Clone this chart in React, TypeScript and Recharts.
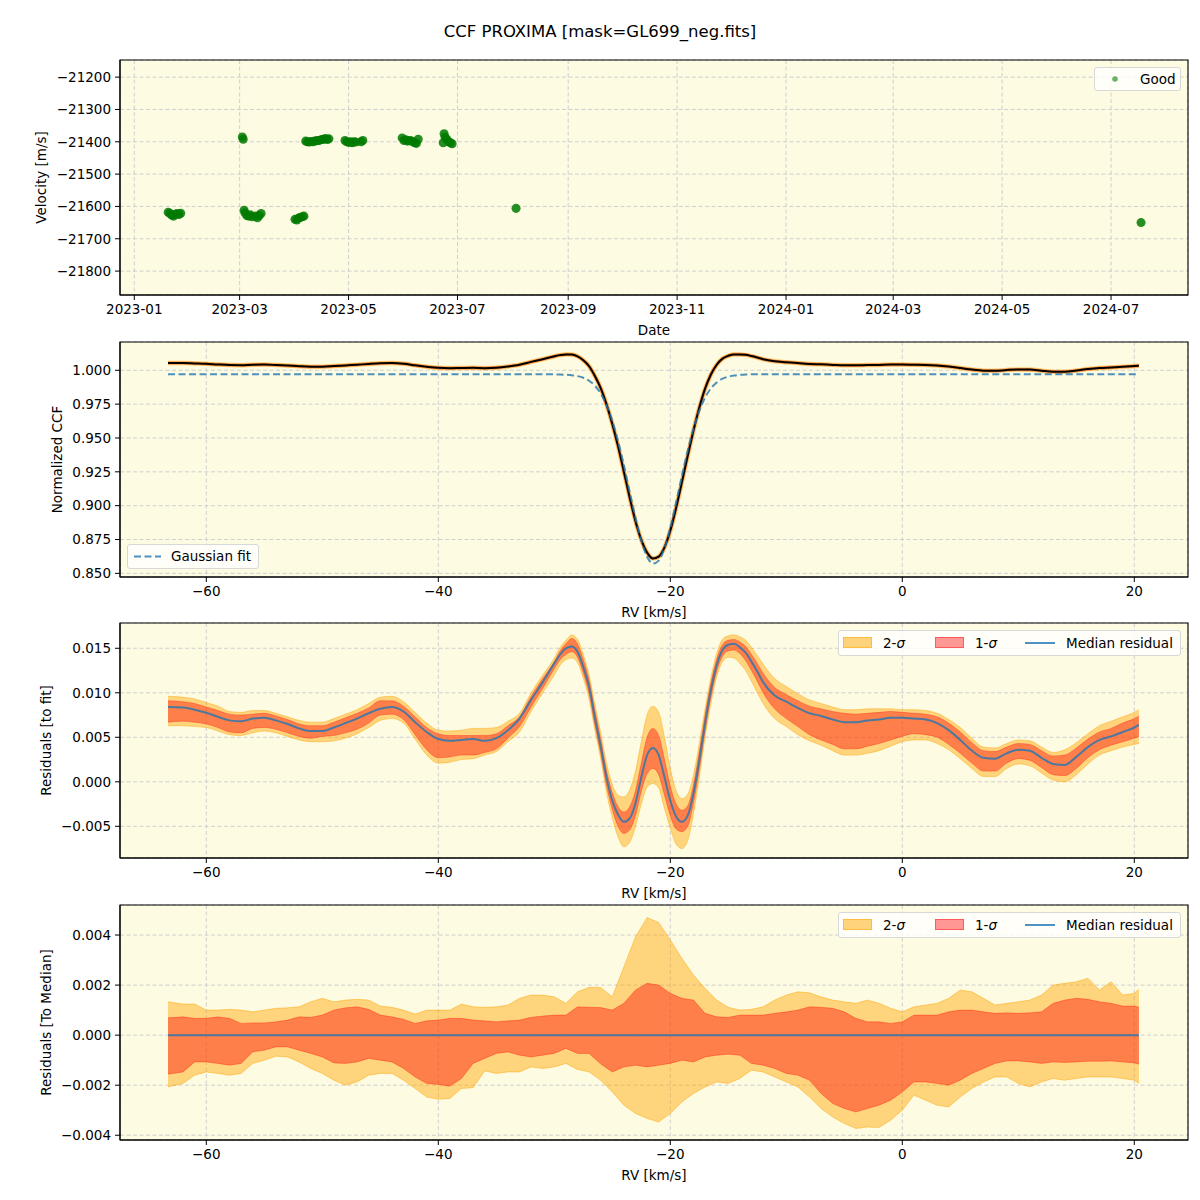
import React from "react";
import {
  ScatterChart,
  Scatter,
  ComposedChart,
  Line,
  Area,
  XAxis,
  YAxis,
  ZAxis,
  CartesianGrid,
  ReferenceArea,
} from "recharts";

const FONT = "'DejaVu Sans', Verdana, sans-serif";

// ---- panel 1: RV per exposure, x = days since 2023-01-01 ----
const OBS_DAY = [
  19, 20, 21, 22, 23, 24, 25, 26,
  60.5, 61,
  61.5, 62, 63, 64, 65, 66, 68, 69, 70, 71,
  90, 91, 92, 93, 94, 95,
  96, 97, 98, 99, 100, 101, 102, 103, 104, 105, 106, 107, 108, 109,
  118, 119, 120, 121, 122, 123, 124, 127, 128,
  150, 151, 152, 153, 154, 155, 156, 157, 158, 159,
  173, 173.5, 174, 175, 176, 177, 178,
  213.8,
  563.8,
];
const OBS_VEL = [
  -21618, -21622, -21627, -21630, -21624, -21622, -21625, -21621,
  -21385, -21392,
  -21612, -21620, -21628, -21630, -21626, -21632, -21630, -21635, -21628, -21622,
  -21640, -21642, -21636, -21634, -21632, -21630,
  -21398, -21400, -21401, -21399, -21400, -21398, -21397, -21396, -21395, -21393, -21392, -21390, -21393, -21391,
  -21396, -21400, -21402, -21400, -21403, -21400, -21401, -21400, -21396,
  -21388, -21396, -21394, -21398, -21396, -21397, -21400, -21403, -21405, -21392,
  -21403, -21375, -21385, -21392, -21400, -21403, -21406,
  -21606,
  -21650,
];
const DATE_TICKS = [0, 59, 120, 181, 243, 304, 365, 425, 486, 547];
const DATE_LABELS = [
  "2023-01", "2023-03", "2023-05", "2023-07", "2023-09",
  "2023-11", "2024-01", "2024-03", "2024-05", "2024-07",
];
const VEL_TICKS = [-21800, -21700, -21600, -21500, -21400, -21300, -21200];

// ---- panels 2 & 3: CCF and residuals to the gaussian fit ----
const RV = [
  -63.3, -62, -61, -60, -59, -58, -57, -56, -55, -54, -53, -52, -51, -50, -49, -48, -47,
  -46, -45, -44, -43, -42, -41, -40, -39, -38, -37, -36, -35, -34, -33, -32, -31,
  -30, -29.5, -29, -28.5, -28, -27.5, -27, -26.5, -26, -25.5, -25, -24.5, -24, -23.5,
  -23, -22.5, -22, -21.5, -21, -20.5, -20, -19.5, -19, -18.5, -18, -17.5, -17, -16.5,
  -16, -15.5, -15, -14.5, -14, -13.5, -13, -12.5, -12,
  -11, -10, -9, -8, -7, -6, -5, -4, -3, -2, -1, 0, 1, 2, 3, 4, 5, 6, 7, 8, 9, 10,
  11, 12, 13, 14, 15, 16, 17, 18, 19, 20, 20.4,
];
const CCF_MED = [
  1.0054, 1.0054, 1.0051, 1.0048, 1.0043, 1.0039, 1.0038, 1.0041, 1.0042, 1.0039, 1.0035,
  1.003, 1.0027, 1.0027, 1.0031, 1.0036, 1.0041, 1.0047, 1.0052, 1.0054, 1.0049, 1.0037,
  1.0026, 1.0018, 1.0016, 1.0017, 1.0018, 1.0016, 1.0019, 1.0028, 1.0041, 1.0062, 1.0082,
  1.0103, 1.0112, 1.0117, 1.0116, 1.0103, 1.0074, 1.003, 0.9958, 0.9868, 0.9748, 0.9604,
  0.9438, 0.9251, 0.906, 0.8885, 0.8747, 0.8653, 0.861, 0.8624, 0.8692, 0.8816, 0.8984,
  0.9174, 0.9368, 0.9556, 0.9724, 0.9864, 0.9969, 1.0041, 1.0086, 1.0107, 1.0117, 1.0117,
  1.0114, 1.0105, 1.0094, 1.0082,
  1.0067, 1.006, 1.0053, 1.0047, 1.0044, 1.004, 1.0037, 1.0037, 1.0039, 1.004, 1.0042,
  1.0042, 1.0041, 1.004, 1.0036, 1.0028, 1.0017, 1.0005, 0.9997, 0.9996, 1.0002, 1.0006,
  1.0005, 0.9997, 0.999, 0.9989, 0.9998, 1.0009, 1.0017, 1.0021, 1.0026, 1.0031, 1.0034,
];
const GAUSS_FIT = [
  0.997, 0.997, 0.997, 0.997, 0.997, 0.997, 0.997, 0.997, 0.997, 0.997, 0.997,
  0.997, 0.997, 0.997, 0.997, 0.997, 0.997, 0.997, 0.997, 0.997, 0.997, 0.997,
  0.997, 0.997, 0.997, 0.997, 0.997, 0.997, 0.997, 0.997, 0.997, 0.997, 0.997,
  0.997, 0.9969, 0.9967, 0.9964, 0.9957, 0.9945, 0.9923, 0.9886, 0.9828, 0.9743, 0.9625,
  0.9475, 0.9296, 0.9101, 0.8909, 0.8742, 0.8623, 0.8572, 0.8594, 0.8687, 0.8837, 0.9023,
  0.9219, 0.9406, 0.9569, 0.97, 0.9798, 0.9866, 0.991, 0.9938, 0.9953, 0.9962, 0.9966,
  0.9969, 0.997, 0.997, 0.997,
  0.997, 0.997, 0.997, 0.997, 0.997, 0.997, 0.997, 0.997, 0.997, 0.997, 0.997,
  0.997, 0.997, 0.997, 0.997, 0.997, 0.997, 0.997, 0.997, 0.997, 0.997, 0.997,
  0.997, 0.997, 0.997, 0.997, 0.997, 0.997, 0.997, 0.997, 0.997, 0.997, 0.997,
];
const RES_MED = [
  0.0084, 0.00835, 0.0081, 0.00775, 0.0073, 0.0069, 0.0068, 0.0071, 0.0072, 0.0069, 0.0065,
  0.006, 0.0057, 0.0057, 0.0061, 0.0066, 0.0071, 0.0077, 0.0082, 0.0084, 0.0079, 0.0067,
  0.0056, 0.0048, 0.0046, 0.0047, 0.0048, 0.0046, 0.0049, 0.0058, 0.0071, 0.0092, 0.0112,
  0.0133, 0.0143, 0.015, 0.0152, 0.0146, 0.0129, 0.0107, 0.0072, 0.004, 0.0005, -0.0021,
  -0.0037, -0.0045, -0.0041, -0.0024, 0.0005, 0.003, 0.0038, 0.003, 0.0005, -0.0021, -0.0039,
  -0.0045, -0.0038, -0.0013, 0.0024, 0.0066, 0.0103, 0.0131, 0.0148, 0.0154, 0.0155, 0.0151,
  0.0145, 0.0135, 0.0124, 0.0112,
  0.0097, 0.009, 0.0083, 0.0077, 0.0074, 0.007, 0.0067, 0.0067, 0.0069, 0.007, 0.0072,
  0.0072, 0.0071, 0.007, 0.0066, 0.0058, 0.0047, 0.0035, 0.0027, 0.0026, 0.0032, 0.0036,
  0.0035, 0.0027, 0.002, 0.0019, 0.0028, 0.0039, 0.0047, 0.0051, 0.0056, 0.0061, 0.0064,
];
const RES_LO2 = [
  0.0063, 0.0063, 0.0062, 0.0061, 0.0057, 0.0053, 0.0052, 0.0055, 0.0057, 0.0055, 0.0051,
  0.0047, 0.0045, 0.0045, 0.0046, 0.0049, 0.0054, 0.0061, 0.0069, 0.0071, 0.0066, 0.0048,
  0.003, 0.0021, 0.0022, 0.0025, 0.0026, 0.003, 0.0034, 0.0045, 0.0056, 0.0079, 0.01,
  0.012, 0.0131, 0.0137, 0.0139, 0.0134, 0.0116, 0.0093, 0.0058, 0.0026, -0.0012, -0.004,
  -0.0062, -0.0073, -0.0068, -0.005, -0.0025, -0.0006, -0.0002, -0.0007, -0.003, -0.0052, -0.007,
  -0.0075, -0.0066, -0.0036, 0.0005, 0.005, 0.0088, 0.0118, 0.0135, 0.014, 0.0139, 0.0133,
  0.0125, 0.0113, 0.01, 0.0088,
  0.0071, 0.0062, 0.0053, 0.0046, 0.0041, 0.0035, 0.003, 0.003, 0.0032, 0.0035, 0.004,
  0.0045, 0.0047, 0.0047, 0.0043, 0.0036, 0.0026, 0.0015, 0.0006, 0.0006, 0.0015, 0.002,
  0.0018, 0.001, 0.0002, 0.0, 0.0008, 0.002, 0.003, 0.0035, 0.0039, 0.0042, 0.0043,
];
const RES_LO1 = [
  0.0067, 0.0068, 0.0067, 0.0065, 0.0061, 0.0056, 0.0055, 0.006, 0.0061, 0.0059, 0.0055,
  0.0051, 0.0049, 0.0051, 0.0052, 0.0055, 0.0059, 0.0066, 0.0075, 0.0076, 0.007, 0.0053,
  0.0036, 0.0027, 0.0028, 0.003, 0.003, 0.0033, 0.0037, 0.0049, 0.0062, 0.0084, 0.0105,
  0.0127, 0.0137, 0.0143, 0.0146, 0.014, 0.0122, 0.0099, 0.0064, 0.0032, -0.0004, -0.0031,
  -0.005, -0.0058, -0.0054, -0.0038, -0.0011, 0.0009, 0.0015, 0.0008, -0.0015, -0.0038, -0.0053,
  -0.0056, -0.005, -0.0024, 0.0014, 0.0057, 0.0095, 0.0124, 0.0141, 0.0147, 0.0148, 0.0144,
  0.0136, 0.0125, 0.0113, 0.01,
  0.0082, 0.0071, 0.0062, 0.0053, 0.0047, 0.0042, 0.0037, 0.0037, 0.004, 0.0043, 0.0047,
  0.0051, 0.0054, 0.0053, 0.005, 0.0042, 0.0032, 0.0021, 0.0012, 0.0012, 0.0021, 0.0026,
  0.0024, 0.0016, 0.0008, 0.0007, 0.0015, 0.0027, 0.0036, 0.0041, 0.0045, 0.0049, 0.0051,
];
const RES_HI1 = [
  0.0091, 0.009, 0.0088, 0.0084, 0.008, 0.0076, 0.0075, 0.0076, 0.0077, 0.0074, 0.007,
  0.0065, 0.0063, 0.0063, 0.0067, 0.0072, 0.0077, 0.0083, 0.0091, 0.0091, 0.0085, 0.0073,
  0.0061, 0.0054, 0.0052, 0.0052, 0.0052, 0.0052, 0.0054, 0.0063, 0.0073, 0.0096, 0.0116,
  0.0135, 0.0147, 0.0155, 0.0161, 0.0155, 0.0137, 0.0114, 0.008, 0.0048, 0.0013, -0.0012,
  -0.0028, -0.0034, -0.0028, -0.001, 0.0021, 0.005, 0.006, 0.0052, 0.0025, -0.0005, -0.0025,
  -0.0032, -0.0027, -0.0003, 0.0034, 0.0075, 0.0111, 0.0138, 0.0154, 0.0159, 0.016, 0.0157,
  0.0152, 0.0143, 0.0133, 0.0122,
  0.0106, 0.0098, 0.0091, 0.0085, 0.0082, 0.0079, 0.0077, 0.0076, 0.0077, 0.0078, 0.0079,
  0.0078, 0.0077, 0.0076, 0.0073, 0.0066, 0.0056, 0.0044, 0.0035, 0.0034, 0.0039, 0.0043,
  0.0042, 0.0035, 0.0029, 0.003, 0.0038, 0.0048, 0.0056, 0.006, 0.0066, 0.0071, 0.0074,
];
const RES_HI2 = [
  0.0096, 0.0095, 0.0093, 0.0089, 0.0085, 0.0079, 0.0078, 0.008, 0.008, 0.0077, 0.0073,
  0.0069, 0.0067, 0.0067, 0.0071, 0.0076, 0.0081, 0.0088, 0.0095, 0.0096, 0.009, 0.0078,
  0.0066, 0.0058, 0.0057, 0.0058, 0.006, 0.006, 0.0061, 0.0068, 0.0077, 0.01, 0.012,
  0.0139, 0.0151, 0.0159, 0.0165, 0.016, 0.0143, 0.012, 0.0087, 0.0055, 0.0021, -0.0003,
  -0.0015, -0.0017, -0.0009, 0.0012, 0.0045, 0.0075, 0.0085, 0.0078, 0.005, 0.0015, -0.001,
  -0.0019, -0.0014, 0.0008, 0.0043, 0.0082, 0.0117, 0.0144, 0.016, 0.0164, 0.0165, 0.0163,
  0.0159, 0.0151, 0.0142, 0.0132,
  0.0116, 0.0107, 0.0099, 0.0092, 0.0088, 0.0084, 0.0081, 0.0081, 0.0082, 0.0082, 0.0082,
  0.0081, 0.0081, 0.008, 0.0077, 0.007, 0.0061, 0.0049, 0.0039, 0.0038, 0.0043, 0.0047,
  0.0046, 0.0039, 0.0033, 0.0036, 0.0044, 0.0054, 0.0063, 0.0068, 0.0073, 0.0078, 0.0081,
];

// ---- panel 4: residuals to the median ----
const TM_RV = [
  -63.3, -62, -61, -60, -59, -58, -57, -56, -55, -54,
  -53, -52, -51, -50, -49, -48, -47, -46, -45, -44,
  -43, -42, -41, -40, -39, -38, -37, -36, -35, -34,
  -33, -32, -31, -30, -29, -28, -27, -26, -25, -24,
  -23, -22, -21, -20, -19, -18, -17, -16, -15, -14,
  -13, -12, -11, -10, -9, -8, -7, -6, -5, -4,
  -3, -2, -1, 0, 1, 2, 3, 4, 5, 6,
  7, 8, 9, 10, 11, 12, 13, 14, 15, 16,
  17, 18, 19, 20, 20.4,
];
const TM_HI2 = [
  0.00133, 0.00124, 0.00124, 0.001, 0.001, 0.00103, 0.001, 0.00093, 0.001, 0.00107,
  0.00109, 0.00113, 0.00133, 0.00147, 0.00133, 0.0014, 0.00143, 0.0014, 0.00116, 0.00111,
  0.001, 0.00084, 0.001, 0.001, 0.001, 0.00124, 0.00113, 0.00111, 0.00113, 0.0012,
  0.00147, 0.0016, 0.0016, 0.00153, 0.00127, 0.00173, 0.00191, 0.0019, 0.00153, 0.00273,
  0.00393, 0.0047, 0.0045, 0.0038, 0.00307, 0.0024, 0.00187, 0.0014, 0.00111, 0.001,
  0.00103, 0.00113, 0.0014, 0.0016, 0.00173, 0.00169, 0.00153, 0.0014, 0.00133, 0.00127,
  0.0014, 0.00127, 0.00107, 0.00093, 0.00113, 0.0012, 0.00127, 0.00147, 0.0018, 0.00173,
  0.00147, 0.0012, 0.00127, 0.00133, 0.0014, 0.0016, 0.002, 0.00207, 0.00213, 0.00227,
  0.0018, 0.00213, 0.0016, 0.00167, 0.00183,
];
const TM_HI1 = [
  0.00069, 0.00073, 0.00067, 0.00067, 0.00073, 0.00067, 0.00047, 0.00049, 0.00049, 0.00053,
  0.0006, 0.00073, 0.00071, 0.0008, 0.001, 0.00109, 0.00113, 0.00103, 0.0008, 0.00073,
  0.00063, 0.00047, 0.00057, 0.0006, 0.00067, 0.00067, 0.0006, 0.00057, 0.00053, 0.00057,
  0.0006, 0.00071, 0.00076, 0.0008, 0.0008, 0.00113, 0.00111, 0.0011, 0.001, 0.00127,
  0.0018, 0.00207, 0.002, 0.00167, 0.00147, 0.0014, 0.00087, 0.00073, 0.00071, 0.0008,
  0.0008, 0.0008, 0.00087, 0.00093, 0.001, 0.00113, 0.00111, 0.00107, 0.00093, 0.00067,
  0.00053, 0.00053, 0.00047, 0.00053, 0.0008, 0.0008, 0.0008, 0.00093, 0.001, 0.001,
  0.00093, 0.00087, 0.00089, 0.00087, 0.00089, 0.00093, 0.00127, 0.0014, 0.00147, 0.00143,
  0.00133, 0.00127, 0.00116, 0.00116, 0.00111,
];
const TM_LO1 = [
  -0.00156, -0.00147, -0.00107, -0.00107, -0.00113, -0.0012, -0.00113, -0.00067, -0.0006, -0.00047,
  -0.00047, -0.0006, -0.00073, -0.00087, -0.00111, -0.00113, -0.00107, -0.00093, -0.001, -0.00107,
  -0.00133, -0.00167, -0.00193, -0.00197, -0.00204, -0.00173, -0.00113, -0.00093, -0.00073, -0.00067,
  -0.0008, -0.00087, -0.0008, -0.00073, -0.00053, -0.00073, -0.00073, -0.00115, -0.00147, -0.00127,
  -0.0012, -0.00127, -0.0012, -0.00113, -0.001, -0.00107, -0.00087, -0.0008, -0.00076, -0.0008,
  -0.00113, -0.0012, -0.00133, -0.00153, -0.0016, -0.0018, -0.00233, -0.00273, -0.00293, -0.00307,
  -0.00293, -0.0028, -0.0026, -0.00227, -0.00187, -0.00187, -0.00193, -0.002, -0.0018, -0.00153,
  -0.00133, -0.00113, -0.00103, -0.00103, -0.00107, -0.00113, -0.00107, -0.00109, -0.00107, -0.00104,
  -0.00104, -0.00103, -0.00107, -0.00111, -0.00116,
];
const TM_LO2 = [
  -0.00207, -0.00193, -0.0016, -0.00147, -0.00153, -0.0016, -0.00153, -0.00113, -0.001, -0.00084,
  -0.00087, -0.00107, -0.00133, -0.00153, -0.0018, -0.002, -0.00187, -0.0016, -0.00153, -0.00153,
  -0.0018, -0.00213, -0.00247, -0.00256, -0.00253, -0.00213, -0.0021, -0.00143, -0.00153, -0.00147,
  -0.00147, -0.00127, -0.00133, -0.00127, -0.00113, -0.00137, -0.00147, -0.0018, -0.00227, -0.0028,
  -0.00313, -0.00333, -0.00347, -0.00313, -0.00267, -0.00233, -0.00207, -0.00187, -0.00193, -0.00173,
  -0.0014, -0.00147, -0.00167, -0.00187, -0.00207, -0.00247, -0.00293, -0.00327, -0.00353, -0.00373,
  -0.00367, -0.00369, -0.0034, -0.003, -0.0024, -0.0026, -0.0028, -0.00287, -0.00247, -0.00213,
  -0.00187, -0.00167, -0.00167, -0.00193, -0.00207, -0.00187, -0.00173, -0.0018, -0.00173, -0.00167,
  -0.00167, -0.00167, -0.00173, -0.0018, -0.00193,
];
const TM_MEDIAN = [0, 0]; // flat by construction, at both ends of TM_RV

const RV_TICKS = [-60, -40, -20, 0, 20];
const CCF_TICKS = [0.85, 0.875, 0.9, 0.925, 0.95, 0.975, 1.0];
const RES_TICKS = [-0.005, 0, 0.005, 0.01, 0.015];
const TM_TICKS = [-0.004, -0.002, 0, 0.002, 0.004];

const velData = OBS_DAY.map((d, i) => ({ day: d, vel: OBS_VEL[i] }));
const ccfData = RV.map((rv, i) => ({
  rv,
  ccf: CCF_MED[i],
  fit: GAUSS_FIT[i],
  med: RES_MED[i],
  s1: [RES_LO1[i], RES_HI1[i]],
  s2: [RES_LO2[i], RES_HI2[i]],
}));
const tmData = TM_RV.map((rv, i) => ({
  rv,
  s1: [TM_LO1[i], TM_HI1[i]],
  s2: [TM_LO2[i], TM_HI2[i]],
}));
const tmMedian = [
  { rv: TM_RV[0], med: TM_MEDIAN[0] },
  { rv: TM_RV[TM_RV.length - 1], med: TM_MEDIAN[1] },
];

const BG = "#FDFBE2";
const GRID = "#cfcfcf";
const BLUE = "#1f77b4";
const minus = (s: string) => s.replace("-", "\u2212");

const tickStyle = { fill: "#000", fontSize: 13.5, fontFamily: FONT };
const axisCommon = {
  tick: tickStyle,
  tickLine: { stroke: "#000" },
  axisLine: { stroke: "#000" },
  tickSize: 5,
  tickMargin: 4,
  allowDataOverflow: true,
  interval: 0 as const,
};

const xLabel = (text: string) => (props: any) => {
  const vb = props.viewBox || { x: 120, y: 0, width: 1068 };
  return (
    <text x={vb.x + vb.width / 2} y={vb.y + 35} textAnchor="middle" dominantBaseline="central"
      fontSize={13.5} fontFamily={FONT} fill="#000">{text}</text>
  );
};
const yLabel = (text: string, cx: number) => (props: any) => {
  const vb = props.viewBox || { y: 0, height: 0 };
  const cy = vb.y + vb.height / 2;
  return (
    <text x={cx} y={cy} transform={`rotate(-90 ${cx} ${cy})`} textAnchor="middle"
      dominantBaseline="central" fontSize={13.5} fontFamily={FONT} fill="#000">{text}</text>
  );
};

// axes box (all four spines)
const frame = (xDom: number[], yDom: number[]) => (
  <ReferenceArea x1={xDom[0]} x2={xDom[1]} y1={yDom[0]} y2={yDom[1]} fill="none"
    stroke="#000" strokeWidth={1.1} strokeOpacity={1} ifOverflow="visible" />
);

const legendBox: React.CSSProperties = {
  position: "absolute",
  background: "rgba(255,255,255,0.8)",
  border: "1px solid #d8d8d8",
  borderRadius: 3,
  boxSizing: "border-box",
  fontFamily: FONT,
  fontSize: 13.5,
  color: "#000",
};
const legendText = (left: number, h: number): React.CSSProperties => ({
  position: "absolute",
  left,
  top: 0,
  lineHeight: `${h - 2}px`,
  whiteSpace: "nowrap",
});

function SigmaLegend({ top }: { top: number }) {
  const h = 26;
  return (
    <div style={{ ...legendBox, left: 838, top, width: 343, height: h }}>
      <div style={{ position: "absolute", left: 4, top: 6, width: 29, height: 11, background: "rgba(255,165,0,0.5)", border: "1px solid rgba(255,165,0,0.5)", boxSizing: "border-box" }} />
      <span style={legendText(44, h)}>2-<i>σ</i></span>
      <div style={{ position: "absolute", left: 96, top: 6, width: 29, height: 11, background: "rgba(255,0,0,0.4)", border: "1px solid rgba(255,0,0,0.4)", boxSizing: "border-box" }} />
      <span style={legendText(136, h)}>1-<i>σ</i></span>
      <div style={{ position: "absolute", left: 186, top: 11, width: 30, height: 2, background: BLUE, opacity: 0.8 }} />
      <span style={legendText(227, h)}>Median residual</span>
    </div>
  );
}

export default function App() {
  const W = 1200;
  const velDom = [-21874, -21147];
  const dayDom = [-8, 590.1];
  const rvDom = [-67.44, 24.63];
  const ccfDom = [0.8473, 1.0209];
  const resDom = [-0.00856, 0.01784];
  const tmDom = [-0.00419, 0.0052];

  return (
    <div style={{ position: "absolute", left: 0, top: 0, width: 1200, height: 1200, background: "#fff", fontFamily: FONT }}>
      <div style={{ position: "absolute", left: 0, top: 21, width: 1200, textAlign: "center", fontSize: 16.5, lineHeight: "22px" }}>
        CCF PROXIMA [mask=GL699_neg.fits]
      </div>

      {/* panel 1 */}
      <div style={{ position: "absolute", left: 0, top: 0 }}>
        <ScatterChart width={W} height={340} margin={{ top: 60, right: 12, bottom: 0, left: 0 }}>
          <CartesianGrid fill={BG} fillOpacity={1} stroke={GRID} strokeDasharray="4 2.5" />
          <XAxis {...axisCommon} dataKey="day" type="number" domain={dayDom} ticks={DATE_TICKS}
            height={45} tickFormatter={(v: number) => DATE_LABELS[DATE_TICKS.indexOf(v)] ?? ""}
            label={xLabel("Date")} />
          <YAxis {...axisCommon} dataKey="vel" type="number" domain={velDom} ticks={VEL_TICKS}
            width={120} tickFormatter={(v: number) => minus(String(v))}
            label={yLabel("Velocity [m/s]", 41)} />
          <ZAxis range={[88, 88]} />
          <Scatter data={velData} fill="#007a00" fillOpacity={0.85} isAnimationActive={false} />
          {frame(dayDom, velDom)}
        </ScatterChart>
      </div>
      <div style={{ ...legendBox, left: 1094, top: 67, width: 87, height: 24 }}>
        <svg width={20} height={22} style={{ position: "absolute", left: 10, top: 0 }}>
          <circle cx={10} cy={11} r={2.8} fill="#008000" fillOpacity={0.6} />
        </svg>
        <span style={legendText(45, 24)}>Good</span>
      </div>

      {/* panel 2 */}
      <div style={{ position: "absolute", left: 0, top: 300 }}>
        <ComposedChart width={W} height={320} data={ccfData} margin={{ top: 42, right: 12, bottom: 0, left: 0 }}>
          <CartesianGrid fill={BG} fillOpacity={1} stroke={GRID} strokeDasharray="4 2.5" />
          <XAxis {...axisCommon} dataKey="rv" type="number" domain={rvDom} ticks={RV_TICKS}
            height={43} tickFormatter={(v: number) => minus(String(v))} label={xLabel("RV [km/s]")} />
          <YAxis {...axisCommon} type="number" domain={ccfDom} ticks={CCF_TICKS} width={120}
            tickFormatter={(v: number) => v.toFixed(3)} label={yLabel("Normalized CCF", 57)} />
          <Line dataKey="ccf" type="monotone" stroke="#FFA500" strokeOpacity={0.5} strokeWidth={4.5}
            dot={false} isAnimationActive={false} />
          <Line dataKey="ccf" type="monotone" stroke="#FF3000" strokeOpacity={0.4} strokeWidth={3.2}
            dot={false} isAnimationActive={false} />
          <Line dataKey="ccf" type="monotone" stroke="#000" strokeWidth={2} dot={false}
            isAnimationActive={false} />
          <Line dataKey="fit" type="monotone" stroke={BLUE} strokeOpacity={0.8} strokeWidth={2}
            strokeDasharray="7 3.5" dot={false} isAnimationActive={false} />
          {frame(rvDom, ccfDom)}
        </ComposedChart>
      </div>
      <div style={{ ...legendBox, left: 127, top: 544, width: 132, height: 25 }}>
        <svg width={30} height={24} style={{ position: "absolute", left: 5, top: 0 }}>
          <line x1={1} y1={11.5} x2={28} y2={11.5} stroke={BLUE} strokeOpacity={0.8} strokeWidth={2} strokeDasharray="7 3.5" />
        </svg>
        <span style={legendText(43, 25)}>Gaussian fit</span>
      </div>

      {/* panel 3 */}
      <div style={{ position: "absolute", left: 0, top: 580 }}>
        <ComposedChart width={W} height={320} data={ccfData} margin={{ top: 43, right: 12, bottom: 0, left: 0 }}>
          <CartesianGrid fill={BG} fillOpacity={1} stroke={GRID} strokeDasharray="4 2.5" />
          <XAxis {...axisCommon} dataKey="rv" type="number" domain={rvDom} ticks={RV_TICKS}
            height={42} tickFormatter={(v: number) => minus(String(v))} label={xLabel("RV [km/s]")} />
          <YAxis {...axisCommon} type="number" domain={resDom} ticks={RES_TICKS} width={120}
            tickFormatter={(v: number) => minus(v.toFixed(3))} label={yLabel("Residuals [to fit]", 46)} />
          <Area dataKey="s2" type="monotone" fill="#FFA500" fillOpacity={0.45} stroke="#FFA500"
            strokeOpacity={0.45} strokeWidth={1} isAnimationActive={false} />
          <Area dataKey="s1" type="monotone" fill="#FF0000" fillOpacity={0.4} stroke="#FF0000"
            strokeOpacity={0.3} strokeWidth={1} isAnimationActive={false} />
          <Line dataKey="med" type="monotone" stroke={BLUE} strokeOpacity={0.8} strokeWidth={2}
            dot={false} isAnimationActive={false} />
          {frame(rvDom, resDom)}
        </ComposedChart>
      </div>
      <SigmaLegend top={630} />

      {/* panel 4 */}
      <div style={{ position: "absolute", left: 0, top: 860 }}>
        <ComposedChart width={W} height={340} data={tmData} margin={{ top: 45, right: 12, bottom: 0, left: 0 }}>
          <CartesianGrid fill={BG} fillOpacity={1} stroke={GRID} strokeDasharray="4 2.5" />
          <XAxis {...axisCommon} dataKey="rv" type="number" domain={rvDom} ticks={RV_TICKS}
            height={60} tickFormatter={(v: number) => minus(String(v))} label={xLabel("RV [km/s]")} />
          <YAxis {...axisCommon} type="number" domain={tmDom} ticks={TM_TICKS} width={120}
            tickFormatter={(v: number) => minus(v.toFixed(3))} label={yLabel("Residuals [To Median]", 46)} />
          <Area dataKey="s2" type="linear" fill="#FFA500" fillOpacity={0.45} stroke="#FFA500"
            strokeOpacity={0.45} strokeWidth={1} isAnimationActive={false} />
          <Area dataKey="s1" type="linear" fill="#FF0000" fillOpacity={0.4} stroke="#FF0000"
            strokeOpacity={0.3} strokeWidth={1} isAnimationActive={false} />
          <Line data={tmMedian} dataKey="med" type="linear" stroke={BLUE} strokeOpacity={0.8}
            strokeWidth={2} dot={false} isAnimationActive={false} />
          {frame(rvDom, tmDom)}
        </ComposedChart>
      </div>
      <SigmaLegend top={912} />
    </div>
  );
}
